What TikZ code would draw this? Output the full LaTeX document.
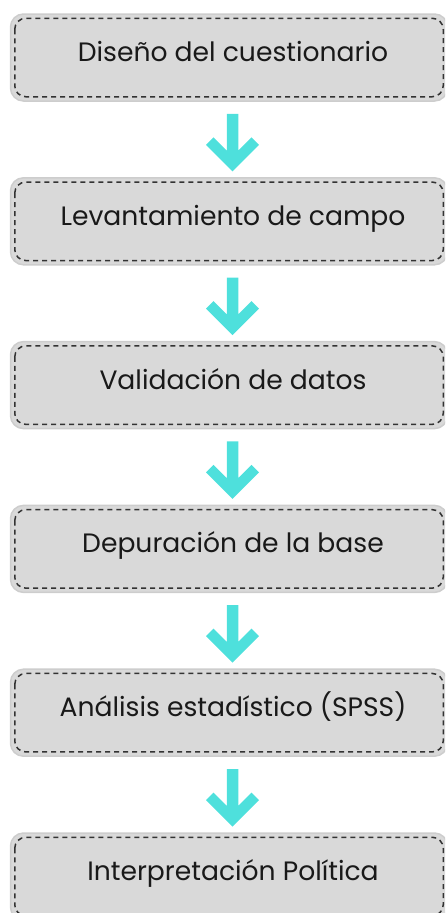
\documentclass[tikz,border=0pt]{standalone}
\usepackage{fontspec}
\setmainfont{Poppins}
\definecolor{boxgray}{HTML}{D9D9D9}
\definecolor{boxedge}{HTML}{CDCDCD}
\definecolor{dashgray}{HTML}{333333}
\definecolor{flowcyan}{HTML}{4EE0DC}
\tikzset{
  stage/.style={rectangle, rounded corners=13pt, fill=boxgray, draw=boxedge,
    line width=1.5pt, minimum width=437pt, minimum height=87pt, inner sep=0pt},
  stagedash/.style={draw=dashgray, line width=1.5pt,
    dash pattern=on 5pt off 4pt, rounded corners=11pt},
  stagetext/.style={anchor=base, font=\fontsize{26.6}{31}\selectfont, text=black!90},
  flow/.style={fill=flowcyan}
}

\begin{document}
\begin{tikzpicture}[x=1pt,y=-1pt]
  \useasboundingbox (0,0) rectangle (445,913);
  \clip (0,0) rectangle (445,913);
  % the six stages
  \foreach \txt [count=\i from 0] in {Diseño del cuestionario,
      Levantamiento de campo, Validación de datos, Depuración de la base,
      Análisis estadístico (SPSS), Interpretación Política}{
    \node[stage] (b\i) at (229,57.5+163.8*\i) {};
    \draw[stagedash] ([shift={(5,5)}]b\i.north west)
      rectangle ([shift={(-5,-5)}]b\i.south east);
    \node[stagetext] (t\i) at ([xshift=4pt,yshift=-4pt]b\i.center) {\txt};
  }
  % arrows between stages
  \foreach \i [evaluate=\i as \j using int(\i+1)] in {0,...,4}{
    \path (b\i.south) -- (b\j.north) coordinate[pos=0.16,xshift=3.5pt] (a\i);
    \fill[flow, shift={(a\i)}] (-5.75,0) -- (5.75,0) -- (5.75,36.75)
      -- (19,23.5) -- (26.5,31) -- (0,57.5) -- (-26.5,31) -- (-19,23.5)
      -- (-5.75,36.75) -- cycle;
  }
\end{tikzpicture}
\end{document}
